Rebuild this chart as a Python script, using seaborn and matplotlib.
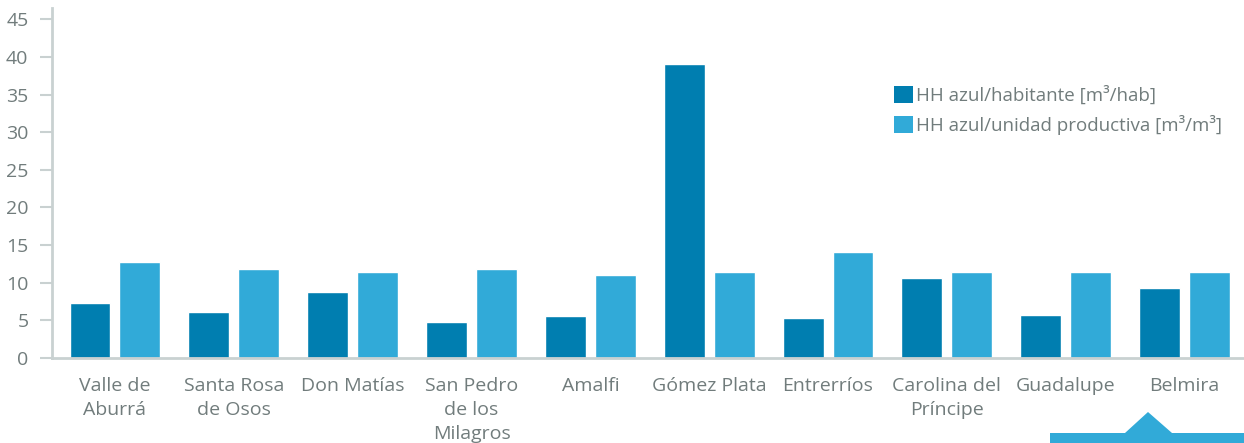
import pandas as pd
import matplotlib
matplotlib.use("Agg")
from matplotlib import pyplot as plt
from matplotlib.patches import Patch, Polygon
import seaborn as sns

# HH azul por habitante y por unidad productiva, municipios de Antioquia
municipios = ["Valle de\nAburrá", "Santa Rosa\nde Osos", "Don Matías", "San Pedro\nde los\nMilagros",
              "Amalfi", "Gómez Plata", "Entrerríos", "Carolina del\nPríncipe", "Guadalupe", "Belmira"]
hh_habitante = [7.3, 6.1, 8.8, 4.8, 5.6, 39.0, 5.3, 10.6, 5.7, 9.3]
hh_unidad = [12.7, 11.8, 11.4, 11.8, 11.0, 11.4, 14.1, 11.4, 11.4, 11.4]
series = ["HH azul/habitante [m³/hab]", "HH azul/unidad productiva [m³/m³]"]
colores = ["#007EB0", "#31AAD8"]
gris = "#717C7C"
linea = "#C9D1D1"

df = pd.DataFrame({
    "municipio": municipios * 2,
    "valor": hh_habitante + hh_unidad,
    "serie": [series[0]] * len(municipios) + [series[1]] * len(municipios),
})

sns.set_style("white")
plt.rcParams["font.family"] = ["Open Sans", "DejaVu Sans"]

fig = plt.figure(figsize=(12.44, 4.43), dpi=100)
ax = fig.add_axes([0.0418, 0.192, 0.9582, 0.79])
sns.barplot(data=df, x="municipio", y="valor", hue="serie", palette=colores,
            width=0.84, gap=0.18, saturation=1, ax=ax, legend=False)

ax.set_xlim(-0.53, 9.5)
ax.set_ylim(0, 46.5)
ax.set_yticks(range(0, 50, 5))
ax.set_xlabel("")
ax.set_ylabel("")
ax.tick_params(axis="y", length=9, width=1.5, color=linea, labelsize=14, labelcolor=gris, pad=8, left=True)
ax.tick_params(axis="x", length=0, labelsize=14, labelcolor=gris, pad=14)
for lab in ax.get_xticklabels():
    lab.set_linespacing(1.42)
    lab.set_verticalalignment("top")
for s in ["top", "right"]:
    ax.spines[s].set_visible(False)
for s in ["left", "bottom"]:
    ax.spines[s].set_color(linea)
    ax.spines[s].set_linewidth(2)

handles = [Patch(facecolor=c, edgecolor="none") for c in colores]
ax.legend(handles, series, loc="upper left", bbox_to_anchor=(0.7, 0.80), frameon=False,
          fontsize=13.5, labelcolor=gris, handlelength=1.0, handleheight=1.0, handletextpad=0.2,
          labelspacing=0.55, borderaxespad=0)

# franja decorativa inferior derecha
forma = Polygon([(1050 / 1244, 0), (1050 / 1244, 10 / 443), (1125 / 1244, 10 / 443), (1148 / 1244, 31 / 443),
                 (1172 / 1244, 10 / 443), (1244 / 1244, 10 / 443), (1, 0)],
                closed=True, transform=fig.transFigure, facecolor=colores[1], edgecolor="none")
fig.patches.append(forma)

fig.savefig("out.png", dpi=100)
